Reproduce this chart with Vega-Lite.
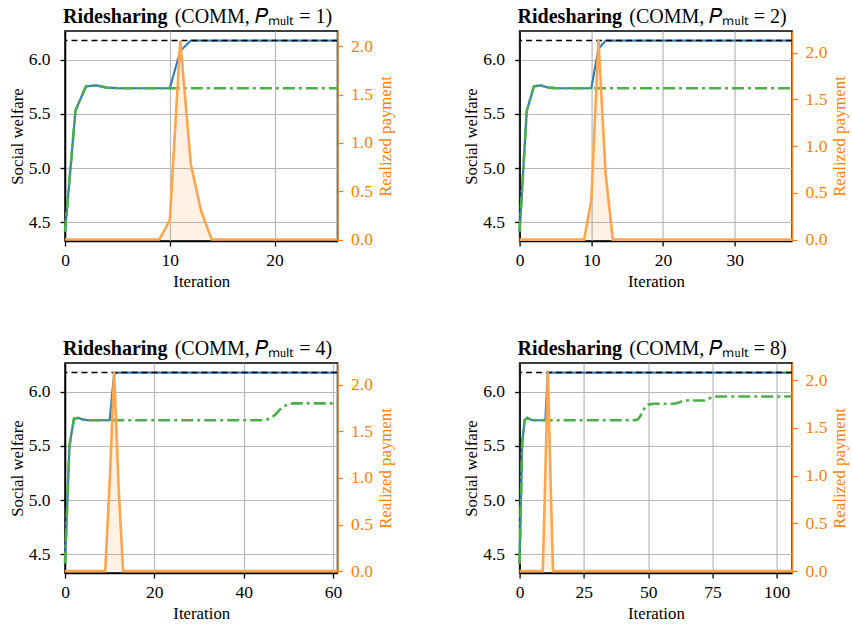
{
"$schema": "https://vega.github.io/schema/vega-lite/v6.json",
"background": "white",
"padding": {"left": 8, "top": 6, "right": 5, "bottom": 5},
"columns": 2,
"spacing": {"row": 122, "column": 181.6},
"bounds": "flush",
"datasets": {
"p1": [
{"iter":0,"comm":4.415,"base":4.415,"pay":0},{"iter":1,"comm":5.53,"base":5.53,"pay":0},{"iter":2,"comm":5.754,"base":5.754,"pay":0},{"iter":3,"comm":5.762,"base":5.762,"pay":0},{"iter":4,"comm":5.742,"base":5.742,"pay":0},{"iter":5,"comm":5.737,"base":5.737,"pay":0},{"iter":6,"comm":5.736,"base":5.736,"pay":0},{"iter":7,"comm":5.736,"base":5.736,"pay":0},{"iter":8,"comm":5.736,"base":5.736,"pay":0},{"iter":9,"comm":5.736,"base":5.736,"pay":0},{"iter":10,"comm":5.736,"base":5.736,"pay":0.2},{"iter":11,"comm":6.08,"base":5.736,"pay":2.06},{"iter":12,"comm":6.176,"base":5.736,"pay":0.78},{"iter":13,"comm":6.176,"base":5.736,"pay":0.29},{"iter":14,"comm":6.176,"base":5.736,"pay":0},{"iter":15,"comm":6.176,"base":5.736,"pay":0},{"iter":16,"comm":6.176,"base":5.736,"pay":0},{"iter":17,"comm":6.176,"base":5.736,"pay":0},{"iter":18,"comm":6.176,"base":5.736,"pay":0},{"iter":19,"comm":6.176,"base":5.736,"pay":0},{"iter":20,"comm":6.176,"base":5.736,"pay":0},{"iter":21,"comm":6.176,"base":5.736,"pay":0},{"iter":22,"comm":6.176,"base":5.736,"pay":0},{"iter":23,"comm":6.176,"base":5.736,"pay":0},{"iter":24,"comm":6.176,"base":5.736,"pay":0},{"iter":25,"comm":6.176,"base":5.736,"pay":0},{"iter":26,"comm":6.176,"base":5.736,"pay":0}
],
"p2": [
{"iter":0,"comm":4.415,"base":4.415,"pay":0},{"iter":1,"comm":5.53,"base":5.53,"pay":0},{"iter":2,"comm":5.754,"base":5.754,"pay":0},{"iter":3,"comm":5.762,"base":5.762,"pay":0},{"iter":4,"comm":5.742,"base":5.742,"pay":0},{"iter":5,"comm":5.737,"base":5.737,"pay":0},{"iter":6,"comm":5.736,"base":5.736,"pay":0},{"iter":7,"comm":5.736,"base":5.736,"pay":0},{"iter":8,"comm":5.736,"base":5.736,"pay":0},{"iter":9,"comm":5.736,"base":5.736,"pay":0},{"iter":10,"comm":5.736,"base":5.736,"pay":0.42},{"iter":11,"comm":6.1,"base":5.736,"pay":2.135},{"iter":12,"comm":6.176,"base":5.736,"pay":0.7},{"iter":13,"comm":6.176,"base":5.736,"pay":0},{"iter":14,"comm":6.176,"base":5.736,"pay":0},{"iter":15,"comm":6.176,"base":5.736,"pay":0},{"iter":16,"comm":6.176,"base":5.736,"pay":0},{"iter":17,"comm":6.176,"base":5.736,"pay":0},{"iter":18,"comm":6.176,"base":5.736,"pay":0},{"iter":19,"comm":6.176,"base":5.736,"pay":0},{"iter":20,"comm":6.176,"base":5.736,"pay":0},{"iter":21,"comm":6.176,"base":5.736,"pay":0},{"iter":22,"comm":6.176,"base":5.736,"pay":0},{"iter":23,"comm":6.176,"base":5.736,"pay":0},{"iter":24,"comm":6.176,"base":5.736,"pay":0},{"iter":25,"comm":6.176,"base":5.736,"pay":0},{"iter":26,"comm":6.176,"base":5.736,"pay":0},{"iter":27,"comm":6.176,"base":5.736,"pay":0},{"iter":28,"comm":6.176,"base":5.736,"pay":0},{"iter":29,"comm":6.176,"base":5.736,"pay":0},{"iter":30,"comm":6.176,"base":5.736,"pay":0},{"iter":31,"comm":6.176,"base":5.736,"pay":0},{"iter":32,"comm":6.176,"base":5.736,"pay":0},{"iter":33,"comm":6.176,"base":5.736,"pay":0},{"iter":34,"comm":6.176,"base":5.736,"pay":0},{"iter":35,"comm":6.176,"base":5.736,"pay":0},{"iter":36,"comm":6.176,"base":5.736,"pay":0},{"iter":37,"comm":6.176,"base":5.736,"pay":0},{"iter":38,"comm":6.176,"base":5.736,"pay":0}
],
"p3": [
{"iter":0,"comm":4.415,"base":4.415,"pay":0},{"iter":1,"comm":5.5,"base":5.5,"pay":0},{"iter":2,"comm":5.75,"base":5.75,"pay":0},{"iter":3,"comm":5.758,"base":5.758,"pay":0},{"iter":4,"comm":5.742,"base":5.742,"pay":0},{"iter":5,"comm":5.737,"base":5.737,"pay":0},{"iter":6,"comm":5.736,"base":5.736,"pay":0},{"iter":7,"comm":5.736,"base":5.736,"pay":0},{"iter":8,"comm":5.736,"base":5.736,"pay":0},{"iter":9,"comm":5.736,"base":5.736,"pay":0},{"iter":10,"comm":5.736,"base":5.736,"pay":0.95},{"iter":11,"comm":6.165,"base":5.736,"pay":2.135},{"iter":12,"comm":6.176,"base":5.736,"pay":0.9},{"iter":13,"comm":6.176,"base":5.736,"pay":0},{"iter":14,"comm":6.176,"base":5.736,"pay":0},{"iter":15,"comm":6.176,"base":5.736,"pay":0},{"iter":16,"comm":6.176,"base":5.736,"pay":0},{"iter":17,"comm":6.176,"base":5.736,"pay":0},{"iter":18,"comm":6.176,"base":5.736,"pay":0},{"iter":19,"comm":6.176,"base":5.736,"pay":0},{"iter":20,"comm":6.176,"base":5.736,"pay":0},{"iter":21,"comm":6.176,"base":5.736,"pay":0},{"iter":22,"comm":6.176,"base":5.736,"pay":0},{"iter":23,"comm":6.176,"base":5.736,"pay":0},{"iter":24,"comm":6.176,"base":5.736,"pay":0},{"iter":25,"comm":6.176,"base":5.736,"pay":0},{"iter":26,"comm":6.176,"base":5.736,"pay":0},{"iter":27,"comm":6.176,"base":5.736,"pay":0},{"iter":28,"comm":6.176,"base":5.736,"pay":0},{"iter":29,"comm":6.176,"base":5.736,"pay":0},{"iter":30,"comm":6.176,"base":5.736,"pay":0},{"iter":31,"comm":6.176,"base":5.736,"pay":0},{"iter":32,"comm":6.176,"base":5.736,"pay":0},{"iter":33,"comm":6.176,"base":5.736,"pay":0},{"iter":34,"comm":6.176,"base":5.736,"pay":0},{"iter":35,"comm":6.176,"base":5.736,"pay":0},{"iter":36,"comm":6.176,"base":5.736,"pay":0},{"iter":37,"comm":6.176,"base":5.736,"pay":0},{"iter":38,"comm":6.176,"base":5.736,"pay":0},{"iter":39,"comm":6.176,"base":5.736,"pay":0},{"iter":40,"comm":6.176,"base":5.736,"pay":0},{"iter":41,"comm":6.176,"base":5.736,"pay":0},{"iter":42,"comm":6.176,"base":5.736,"pay":0},{"iter":43,"comm":6.176,"base":5.736,"pay":0},{"iter":44,"comm":6.176,"base":5.736,"pay":0},{"iter":45,"comm":6.176,"base":5.74,"pay":0},{"iter":46,"comm":6.176,"base":5.755,"pay":0},{"iter":47,"comm":6.176,"base":5.785,"pay":0},{"iter":48,"comm":6.176,"base":5.83,"pay":0},{"iter":49,"comm":6.176,"base":5.865,"pay":0},{"iter":50,"comm":6.176,"base":5.885,"pay":0},{"iter":51,"comm":6.176,"base":5.892,"pay":0},{"iter":52,"comm":6.176,"base":5.892,"pay":0},{"iter":53,"comm":6.176,"base":5.892,"pay":0},{"iter":54,"comm":6.176,"base":5.892,"pay":0},{"iter":55,"comm":6.176,"base":5.892,"pay":0},{"iter":56,"comm":6.176,"base":5.892,"pay":0},{"iter":57,"comm":6.176,"base":5.892,"pay":0},{"iter":58,"comm":6.176,"base":5.892,"pay":0},{"iter":59,"comm":6.176,"base":5.892,"pay":0},{"iter":60,"comm":6.176,"base":5.892,"pay":0},{"iter":61,"comm":6.176,"base":5.892,"pay":0}
],
"p4": [
{"iter":0,"comm":4.415,"base":4.415,"pay":0},{"iter":1,"comm":5.53,"base":5.53,"pay":0},{"iter":2,"comm":5.74,"base":5.74,"pay":0},{"iter":3,"comm":5.758,"base":5.758,"pay":0},{"iter":4,"comm":5.745,"base":5.745,"pay":0},{"iter":5,"comm":5.737,"base":5.737,"pay":0},{"iter":6,"comm":5.736,"base":5.736,"pay":0},{"iter":7,"comm":5.736,"base":5.736,"pay":0},{"iter":8,"comm":5.736,"base":5.736,"pay":0},{"iter":9,"comm":5.736,"base":5.736,"pay":0},{"iter":10,"comm":5.736,"base":5.736,"pay":1.0},{"iter":11,"comm":6.176,"base":5.736,"pay":2.087},{"iter":12,"comm":6.176,"base":5.736,"pay":1.0},{"iter":13,"comm":6.176,"base":5.736,"pay":0},{"iter":14,"comm":6.176,"base":5.736,"pay":0},{"iter":15,"comm":6.176,"base":5.736,"pay":0},{"iter":16,"comm":6.176,"base":5.736,"pay":0},{"iter":17,"comm":6.176,"base":5.736,"pay":0},{"iter":18,"comm":6.176,"base":5.736,"pay":0},{"iter":19,"comm":6.176,"base":5.736,"pay":0},{"iter":20,"comm":6.176,"base":5.736,"pay":0},{"iter":21,"comm":6.176,"base":5.736,"pay":0},{"iter":22,"comm":6.176,"base":5.736,"pay":0},{"iter":23,"comm":6.176,"base":5.736,"pay":0},{"iter":24,"comm":6.176,"base":5.736,"pay":0},{"iter":25,"comm":6.176,"base":5.736,"pay":0},{"iter":26,"comm":6.176,"base":5.736,"pay":0},{"iter":27,"comm":6.176,"base":5.736,"pay":0},{"iter":28,"comm":6.176,"base":5.736,"pay":0},{"iter":29,"comm":6.176,"base":5.736,"pay":0},{"iter":30,"comm":6.176,"base":5.736,"pay":0},{"iter":31,"comm":6.176,"base":5.736,"pay":0},{"iter":32,"comm":6.176,"base":5.736,"pay":0},{"iter":33,"comm":6.176,"base":5.736,"pay":0},{"iter":34,"comm":6.176,"base":5.736,"pay":0},{"iter":35,"comm":6.176,"base":5.736,"pay":0},{"iter":36,"comm":6.176,"base":5.736,"pay":0},{"iter":37,"comm":6.176,"base":5.736,"pay":0},{"iter":38,"comm":6.176,"base":5.736,"pay":0},{"iter":39,"comm":6.176,"base":5.736,"pay":0},{"iter":40,"comm":6.176,"base":5.736,"pay":0},{"iter":41,"comm":6.176,"base":5.736,"pay":0},{"iter":42,"comm":6.176,"base":5.736,"pay":0},{"iter":43,"comm":6.176,"base":5.736,"pay":0},{"iter":44,"comm":6.176,"base":5.736,"pay":0},{"iter":45,"comm":6.176,"base":5.737,"pay":0},{"iter":46,"comm":6.176,"base":5.745,"pay":0},{"iter":47,"comm":6.176,"base":5.775,"pay":0},{"iter":48,"comm":6.176,"base":5.825,"pay":0},{"iter":49,"comm":6.176,"base":5.862,"pay":0},{"iter":50,"comm":6.176,"base":5.88,"pay":0},{"iter":51,"comm":6.176,"base":5.885,"pay":0},{"iter":52,"comm":6.176,"base":5.888,"pay":0},{"iter":53,"comm":6.176,"base":5.888,"pay":0},{"iter":54,"comm":6.176,"base":5.888,"pay":0},{"iter":55,"comm":6.176,"base":5.888,"pay":0},{"iter":56,"comm":6.176,"base":5.888,"pay":0},{"iter":57,"comm":6.176,"base":5.888,"pay":0},{"iter":58,"comm":6.176,"base":5.888,"pay":0},{"iter":59,"comm":6.176,"base":5.888,"pay":0},{"iter":60,"comm":6.176,"base":5.888,"pay":0},{"iter":61,"comm":6.176,"base":5.892,"pay":0},{"iter":62,"comm":6.176,"base":5.9,"pay":0},{"iter":63,"comm":6.176,"base":5.91,"pay":0},{"iter":64,"comm":6.176,"base":5.915,"pay":0},{"iter":65,"comm":6.176,"base":5.918,"pay":0},{"iter":66,"comm":6.176,"base":5.918,"pay":0},{"iter":67,"comm":6.176,"base":5.918,"pay":0},{"iter":68,"comm":6.176,"base":5.918,"pay":0},{"iter":69,"comm":6.176,"base":5.918,"pay":0},{"iter":70,"comm":6.176,"base":5.918,"pay":0},{"iter":71,"comm":6.176,"base":5.918,"pay":0},{"iter":72,"comm":6.176,"base":5.918,"pay":0},{"iter":73,"comm":6.176,"base":5.925,"pay":0},{"iter":74,"comm":6.176,"base":5.94,"pay":0},{"iter":75,"comm":6.176,"base":5.952,"pay":0},{"iter":76,"comm":6.176,"base":5.955,"pay":0},{"iter":77,"comm":6.176,"base":5.955,"pay":0},{"iter":78,"comm":6.176,"base":5.955,"pay":0},{"iter":79,"comm":6.176,"base":5.955,"pay":0},{"iter":80,"comm":6.176,"base":5.955,"pay":0},{"iter":81,"comm":6.176,"base":5.955,"pay":0},{"iter":82,"comm":6.176,"base":5.955,"pay":0},{"iter":83,"comm":6.176,"base":5.955,"pay":0},{"iter":84,"comm":6.176,"base":5.955,"pay":0},{"iter":85,"comm":6.176,"base":5.955,"pay":0},{"iter":86,"comm":6.176,"base":5.955,"pay":0},{"iter":87,"comm":6.176,"base":5.955,"pay":0},{"iter":88,"comm":6.176,"base":5.955,"pay":0},{"iter":89,"comm":6.176,"base":5.955,"pay":0},{"iter":90,"comm":6.176,"base":5.955,"pay":0},{"iter":91,"comm":6.176,"base":5.955,"pay":0},{"iter":92,"comm":6.176,"base":5.955,"pay":0},{"iter":93,"comm":6.176,"base":5.955,"pay":0},{"iter":94,"comm":6.176,"base":5.955,"pay":0},{"iter":95,"comm":6.176,"base":5.955,"pay":0},{"iter":96,"comm":6.176,"base":5.955,"pay":0},{"iter":97,"comm":6.176,"base":5.955,"pay":0},{"iter":98,"comm":6.176,"base":5.955,"pay":0},{"iter":99,"comm":6.176,"base":5.955,"pay":0},{"iter":100,"comm":6.176,"base":5.955,"pay":0},{"iter":101,"comm":6.176,"base":5.955,"pay":0},{"iter":102,"comm":6.176,"base":5.955,"pay":0},{"iter":103,"comm":6.176,"base":5.955,"pay":0},{"iter":104,"comm":6.176,"base":5.955,"pay":0},{"iter":105,"comm":6.176,"base":5.955,"pay":0},{"iter":106,"comm":6.176,"base":5.955,"pay":0}
],
"opt": [{"opt": 6.176}]
},
"concat": [
{
"width": 272.5, "height": 210,
"title": {"text": "Ridesharing", "subtitle": "\u200b\u00a0\u00a0\u00a0\u00a0\u00a0\u00a0\u00a0\u00a0\u00a0\u00a0\u00a0\u00a0\u00a0\u00a0\u00a0\u00a0\u00a0\u00a0\u00a0\u00a0\u00a0\u00a0\u200a(COMM, \ud835\udc43\u2098\u1d64\u2097\u209c = 1)"},
"data": {"name": "p1"},
"layer": [
{"layer": [
{"mark": {"type": "line", "color": "#377eb8", "strokeWidth": 2.2},
 "encoding": {"x": {"field": "iter", "type": "quantitative", "scale": {"domain": [0, 26], "nice": false, "zero": false}, "axis": {"values": [0, 10, 20], "format": "d", "title": "Iteration", "grid": true}},
  "y": {"field": "comm", "type": "quantitative", "scale": {"domain": [4.328, 6.264], "nice": false, "zero": false}, "axis": {"values": [4.5, 5, 5.5, 6], "format": ".1f", "title": "Social welfare", "grid": true, "labelPadding": 10, "titlePadding": 2}}}},
{"mark": {"type": "line", "color": "#4daf4a", "strokeWidth": 2.6, "strokeDash": [12, 4, 3, 4]},
 "encoding": {"x": {"field": "iter", "type": "quantitative", "scale": {"domain": [0, 26], "nice": false, "zero": false}, "axis": {"values": [0, 10, 20], "format": "d", "title": "Iteration", "grid": true}},
  "y": {"field": "base", "type": "quantitative", "scale": {"domain": [4.328, 6.264], "nice": false, "zero": false}, "axis": {"values": [4.5, 5, 5.5, 6], "format": ".1f", "title": "Social welfare", "grid": true, "labelPadding": 10, "titlePadding": 2}}}},
{"data": {"name": "opt"}, "mark": {"type": "rule", "color": "black", "strokeWidth": 1.4, "strokeDash": [6, 4]},
 "encoding": {"y": {"field": "opt", "type": "quantitative", "scale": {"domain": [4.328, 6.264], "nice": false, "zero": false}, "axis": {"values": [4.5, 5, 5.5, 6], "format": ".1f", "title": "Social welfare", "grid": true, "labelPadding": 10, "titlePadding": 2}}}}
]},
{"layer": [
{"mark": {"type": "area", "color": "#ff7f00", "opacity": 0.1},
 "encoding": {"x": {"field": "iter", "type": "quantitative", "scale": {"domain": [0, 26], "nice": false, "zero": false}, "axis": {"values": [0, 10, 20], "format": "d", "title": "Iteration", "grid": true}},
  "y": {"field": "pay", "type": "quantitative", "scale": {"domain": [-0.015, 2.158], "nice": false, "zero": false}, "axis": {"orient": "right", "values": [0, 0.5, 1, 1.5, 2], "format": ".1f", "title": "Realized payment", "grid": false, "labelColor": "#ff7f00", "titleColor": "#ff7f00", "tickColor": "#ff7f00", "domainColor": "#e68a2e", "titleAngle": 270, "titleBaseline": "top", "labelPadding": 8, "titlePadding": 5, "zindex": 1}},
  "y2": {"datum": 0}}},
{"mark": {"type": "line", "color": "#ffa54d", "strokeWidth": 2.6},
 "encoding": {"x": {"field": "iter", "type": "quantitative", "scale": {"domain": [0, 26], "nice": false, "zero": false}, "axis": {"values": [0, 10, 20], "format": "d", "title": "Iteration", "grid": true}},
  "y": {"field": "pay", "type": "quantitative", "scale": {"domain": [-0.015, 2.158], "nice": false, "zero": false}, "axis": {"orient": "right", "values": [0, 0.5, 1, 1.5, 2], "format": ".1f", "title": "Realized payment", "grid": false, "labelColor": "#ff7f00", "titleColor": "#ff7f00", "tickColor": "#ff7f00", "domainColor": "#e68a2e", "titleAngle": 270, "titleBaseline": "top", "labelPadding": 8, "titlePadding": 5, "zindex": 1}}}}
]}
],
"resolve": {"scale": {"y": "independent"}}
},
{
"width": 272.5, "height": 210,
"title": {"text": "Ridesharing", "subtitle": "\u200b\u00a0\u00a0\u00a0\u00a0\u00a0\u00a0\u00a0\u00a0\u00a0\u00a0\u00a0\u00a0\u00a0\u00a0\u00a0\u00a0\u00a0\u00a0\u00a0\u00a0\u00a0\u00a0\u200a(COMM, \ud835\udc43\u2098\u1d64\u2097\u209c = 2)"},
"data": {"name": "p2"},
"layer": [
{"layer": [
{"mark": {"type": "line", "color": "#377eb8", "strokeWidth": 2.2},
 "encoding": {"x": {"field": "iter", "type": "quantitative", "scale": {"domain": [0, 38], "nice": false, "zero": false}, "axis": {"values": [0, 10, 20, 30], "format": "d", "title": "Iteration", "grid": true}},
  "y": {"field": "comm", "type": "quantitative", "scale": {"domain": [4.328, 6.264], "nice": false, "zero": false}, "axis": {"values": [4.5, 5, 5.5, 6], "format": ".1f", "title": "Social welfare", "grid": true, "labelPadding": 10, "titlePadding": 2}}}},
{"mark": {"type": "line", "color": "#4daf4a", "strokeWidth": 2.6, "strokeDash": [12, 4, 3, 4]},
 "encoding": {"x": {"field": "iter", "type": "quantitative", "scale": {"domain": [0, 38], "nice": false, "zero": false}, "axis": {"values": [0, 10, 20, 30], "format": "d", "title": "Iteration", "grid": true}},
  "y": {"field": "base", "type": "quantitative", "scale": {"domain": [4.328, 6.264], "nice": false, "zero": false}, "axis": {"values": [4.5, 5, 5.5, 6], "format": ".1f", "title": "Social welfare", "grid": true, "labelPadding": 10, "titlePadding": 2}}}},
{"data": {"name": "opt"}, "mark": {"type": "rule", "color": "black", "strokeWidth": 1.4, "strokeDash": [6, 4]},
 "encoding": {"y": {"field": "opt", "type": "quantitative", "scale": {"domain": [4.328, 6.264], "nice": false, "zero": false}, "axis": {"values": [4.5, 5, 5.5, 6], "format": ".1f", "title": "Social welfare", "grid": true, "labelPadding": 10, "titlePadding": 2}}}}
]},
{"layer": [
{"mark": {"type": "area", "color": "#ff7f00", "opacity": 0.1},
 "encoding": {"x": {"field": "iter", "type": "quantitative", "scale": {"domain": [0, 38], "nice": false, "zero": false}, "axis": {"values": [0, 10, 20, 30], "format": "d", "title": "Iteration", "grid": true}},
  "y": {"field": "pay", "type": "quantitative", "scale": {"domain": [-0.015, 2.231], "nice": false, "zero": false}, "axis": {"orient": "right", "values": [0, 0.5, 1, 1.5, 2], "format": ".1f", "title": "Realized payment", "grid": false, "labelColor": "#ff7f00", "titleColor": "#ff7f00", "tickColor": "#ff7f00", "domainColor": "#e68a2e", "titleAngle": 270, "titleBaseline": "top", "labelPadding": 8, "titlePadding": 5, "zindex": 1}},
  "y2": {"datum": 0}}},
{"mark": {"type": "line", "color": "#ffa54d", "strokeWidth": 2.6},
 "encoding": {"x": {"field": "iter", "type": "quantitative", "scale": {"domain": [0, 38], "nice": false, "zero": false}, "axis": {"values": [0, 10, 20, 30], "format": "d", "title": "Iteration", "grid": true}},
  "y": {"field": "pay", "type": "quantitative", "scale": {"domain": [-0.015, 2.231], "nice": false, "zero": false}, "axis": {"orient": "right", "values": [0, 0.5, 1, 1.5, 2], "format": ".1f", "title": "Realized payment", "grid": false, "labelColor": "#ff7f00", "titleColor": "#ff7f00", "tickColor": "#ff7f00", "domainColor": "#e68a2e", "titleAngle": 270, "titleBaseline": "top", "labelPadding": 8, "titlePadding": 5, "zindex": 1}}}}
]}
],
"resolve": {"scale": {"y": "independent"}}
},
{
"width": 272.5, "height": 210,
"title": {"text": "Ridesharing", "subtitle": "\u200b\u00a0\u00a0\u00a0\u00a0\u00a0\u00a0\u00a0\u00a0\u00a0\u00a0\u00a0\u00a0\u00a0\u00a0\u00a0\u00a0\u00a0\u00a0\u00a0\u00a0\u00a0\u00a0\u200a(COMM, \ud835\udc43\u2098\u1d64\u2097\u209c = 4)"},
"data": {"name": "p3"},
"layer": [
{"layer": [
{"mark": {"type": "line", "color": "#377eb8", "strokeWidth": 2.2},
 "encoding": {"x": {"field": "iter", "type": "quantitative", "scale": {"domain": [0, 61], "nice": false, "zero": false}, "axis": {"values": [0, 20, 40, 60], "format": "d", "title": "Iteration", "grid": true}},
  "y": {"field": "comm", "type": "quantitative", "scale": {"domain": [4.328, 6.264], "nice": false, "zero": false}, "axis": {"values": [4.5, 5, 5.5, 6], "format": ".1f", "title": "Social welfare", "grid": true, "labelPadding": 10, "titlePadding": 2}}}},
{"mark": {"type": "line", "color": "#4daf4a", "strokeWidth": 2.6, "strokeDash": [12, 4, 3, 4]},
 "encoding": {"x": {"field": "iter", "type": "quantitative", "scale": {"domain": [0, 61], "nice": false, "zero": false}, "axis": {"values": [0, 20, 40, 60], "format": "d", "title": "Iteration", "grid": true}},
  "y": {"field": "base", "type": "quantitative", "scale": {"domain": [4.328, 6.264], "nice": false, "zero": false}, "axis": {"values": [4.5, 5, 5.5, 6], "format": ".1f", "title": "Social welfare", "grid": true, "labelPadding": 10, "titlePadding": 2}}}},
{"data": {"name": "opt"}, "mark": {"type": "rule", "color": "black", "strokeWidth": 1.4, "strokeDash": [6, 4]},
 "encoding": {"y": {"field": "opt", "type": "quantitative", "scale": {"domain": [4.328, 6.264], "nice": false, "zero": false}, "axis": {"values": [4.5, 5, 5.5, 6], "format": ".1f", "title": "Social welfare", "grid": true, "labelPadding": 10, "titlePadding": 2}}}}
]},
{"layer": [
{"mark": {"type": "area", "color": "#ff7f00", "opacity": 0.1},
 "encoding": {"x": {"field": "iter", "type": "quantitative", "scale": {"domain": [0, 61], "nice": false, "zero": false}, "axis": {"values": [0, 20, 40, 60], "format": "d", "title": "Iteration", "grid": true}},
  "y": {"field": "pay", "type": "quantitative", "scale": {"domain": [-0.02, 2.232], "nice": false, "zero": false}, "axis": {"orient": "right", "values": [0, 0.5, 1, 1.5, 2], "format": ".1f", "title": "Realized payment", "grid": false, "labelColor": "#ff7f00", "titleColor": "#ff7f00", "tickColor": "#ff7f00", "domainColor": "#e68a2e", "titleAngle": 270, "titleBaseline": "top", "labelPadding": 8, "titlePadding": 5, "zindex": 1}},
  "y2": {"datum": 0}}},
{"mark": {"type": "line", "color": "#ffa54d", "strokeWidth": 2.6},
 "encoding": {"x": {"field": "iter", "type": "quantitative", "scale": {"domain": [0, 61], "nice": false, "zero": false}, "axis": {"values": [0, 20, 40, 60], "format": "d", "title": "Iteration", "grid": true}},
  "y": {"field": "pay", "type": "quantitative", "scale": {"domain": [-0.02, 2.232], "nice": false, "zero": false}, "axis": {"orient": "right", "values": [0, 0.5, 1, 1.5, 2], "format": ".1f", "title": "Realized payment", "grid": false, "labelColor": "#ff7f00", "titleColor": "#ff7f00", "tickColor": "#ff7f00", "domainColor": "#e68a2e", "titleAngle": 270, "titleBaseline": "top", "labelPadding": 8, "titlePadding": 5, "zindex": 1}}}}
]}
],
"resolve": {"scale": {"y": "independent"}}
},
{
"width": 272.5, "height": 210,
"title": {"text": "Ridesharing", "subtitle": "\u200b\u00a0\u00a0\u00a0\u00a0\u00a0\u00a0\u00a0\u00a0\u00a0\u00a0\u00a0\u00a0\u00a0\u00a0\u00a0\u00a0\u00a0\u00a0\u00a0\u00a0\u00a0\u00a0\u200a(COMM, \ud835\udc43\u2098\u1d64\u2097\u209c = 8)"},
"data": {"name": "p4"},
"layer": [
{"layer": [
{"mark": {"type": "line", "color": "#377eb8", "strokeWidth": 2.2},
 "encoding": {"x": {"field": "iter", "type": "quantitative", "scale": {"domain": [0, 106], "nice": false, "zero": false}, "axis": {"values": [0, 25, 50, 75, 100], "format": "d", "title": "Iteration", "grid": true}},
  "y": {"field": "comm", "type": "quantitative", "scale": {"domain": [4.328, 6.264], "nice": false, "zero": false}, "axis": {"values": [4.5, 5, 5.5, 6], "format": ".1f", "title": "Social welfare", "grid": true, "labelPadding": 10, "titlePadding": 2}}}},
{"mark": {"type": "line", "color": "#4daf4a", "strokeWidth": 2.6, "strokeDash": [12, 4, 3, 4]},
 "encoding": {"x": {"field": "iter", "type": "quantitative", "scale": {"domain": [0, 106], "nice": false, "zero": false}, "axis": {"values": [0, 25, 50, 75, 100], "format": "d", "title": "Iteration", "grid": true}},
  "y": {"field": "base", "type": "quantitative", "scale": {"domain": [4.328, 6.264], "nice": false, "zero": false}, "axis": {"values": [4.5, 5, 5.5, 6], "format": ".1f", "title": "Social welfare", "grid": true, "labelPadding": 10, "titlePadding": 2}}}},
{"data": {"name": "opt"}, "mark": {"type": "rule", "color": "black", "strokeWidth": 1.4, "strokeDash": [6, 4]},
 "encoding": {"y": {"field": "opt", "type": "quantitative", "scale": {"domain": [4.328, 6.264], "nice": false, "zero": false}, "axis": {"values": [4.5, 5, 5.5, 6], "format": ".1f", "title": "Social welfare", "grid": true, "labelPadding": 10, "titlePadding": 2}}}}
]},
{"layer": [
{"mark": {"type": "area", "color": "#ff7f00", "opacity": 0.1},
 "encoding": {"x": {"field": "iter", "type": "quantitative", "scale": {"domain": [0, 106], "nice": false, "zero": false}, "axis": {"values": [0, 25, 50, 75, 100], "format": "d", "title": "Iteration", "grid": true}},
  "y": {"field": "pay", "type": "quantitative", "scale": {"domain": [-0.02, 2.18], "nice": false, "zero": false}, "axis": {"orient": "right", "values": [0, 0.5, 1, 1.5, 2], "format": ".1f", "title": "Realized payment", "grid": false, "labelColor": "#ff7f00", "titleColor": "#ff7f00", "tickColor": "#ff7f00", "domainColor": "#e68a2e", "titleAngle": 270, "titleBaseline": "top", "labelPadding": 8, "titlePadding": 5, "zindex": 1}},
  "y2": {"datum": 0}}},
{"mark": {"type": "line", "color": "#ffa54d", "strokeWidth": 2.6},
 "encoding": {"x": {"field": "iter", "type": "quantitative", "scale": {"domain": [0, 106], "nice": false, "zero": false}, "axis": {"values": [0, 25, 50, 75, 100], "format": "d", "title": "Iteration", "grid": true}},
  "y": {"field": "pay", "type": "quantitative", "scale": {"domain": [-0.02, 2.18], "nice": false, "zero": false}, "axis": {"orient": "right", "values": [0, 0.5, 1, 1.5, 2], "format": ".1f", "title": "Realized payment", "grid": false, "labelColor": "#ff7f00", "titleColor": "#ff7f00", "tickColor": "#ff7f00", "domainColor": "#e68a2e", "titleAngle": 270, "titleBaseline": "top", "labelPadding": 8, "titlePadding": 5, "zindex": 1}}}}
]}
],
"resolve": {"scale": {"y": "independent"}}
}
],
"config": {
"font": "Liberation Serif",
"view": {"stroke": "black", "strokeWidth": 1.5},
"axis": {"labelFont": "Liberation Serif", "labelFontSize": 17.5, "labelColor": "black", "titleFont": "Liberation Serif", "titleFontSize": 16.8, "titleFontWeight": "normal", "titleColor": "black", "domainColor": "black", "domainWidth": 1.5, "tickColor": "black", "tickWidth": 1.3, "tickSize": 5, "gridColor": "#b8b8b8", "gridWidth": 1.2, "labelPadding": 5, "titlePadding": 5, "labelFlush": false, "labelOverlap": false},
"title": {"font": "Liberation Serif", "fontSize": 20, "fontWeight": "bold", "color": "black", "subtitleFont": "Liberation Serif", "subtitleFontSize": 20, "subtitleFontWeight": "normal", "subtitleColor": "black", "anchor": "start", "frame": "group", "dx": -2, "offset": 4, "subtitlePadding": -20}
}
}
